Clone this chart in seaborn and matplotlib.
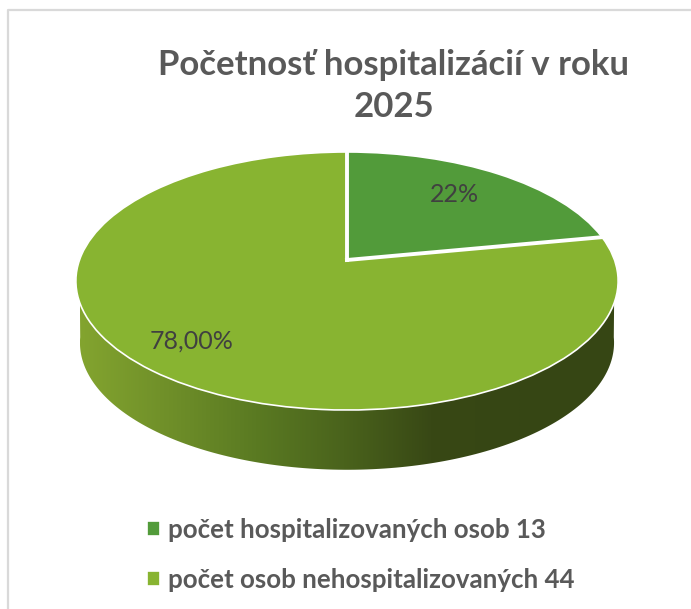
import numpy as np
import matplotlib
matplotlib.use('Agg')
import matplotlib.pyplot as plt
from matplotlib.path import Path
from matplotlib.patches import PathPatch
from matplotlib.transforms import Transform
import seaborn as sns

title = 'Početnosť hospitalizácií v roku\n2025'
categories = ['počet hospitalizovaných osob', 'počet osob nehospitalizovaných']
counts = [13, 44]
shares = [22, 78]
share_labels = ['22%', '78,00%']
colors = ['#529B3A', '#88B431']
wall_colors = ['#83A42F', '#6F8F29', '#5A7A22', '#4A631C', '#384815', '#364614']

sns.set_theme(style='white')
plt.rcParams['font.family'] = ['Lato', 'DejaVu Sans']

TEXT = '#595959'
HUB = (347, 260)


class TiltTransform(Transform):
    """Perspective tilt of the unit pie, output in image pixels."""
    input_dims = 2
    output_dims = 2

    def __init__(self, scale=1.0, shift=0.0):
        super().__init__()
        self.scale = scale
        self.shift = shift

    def transform_non_affine(self, xy):
        xy = np.asarray(xy)
        w = 1 + 0.1628 * xy[:, 1]
        px = HUB[0] + self.scale * 267.5 * xy[:, 0] / w
        py = HUB[1] + self.shift - self.scale * 125.6 * xy[:, 1] / w
        return np.column_stack([px, py])


fig, ax = plt.subplots(figsize=(6.91, 6.09), dpi=100)
fig.subplots_adjust(left=0, right=1, bottom=0, top=1)

# side wall, gradient clipped to the lower rim
t = np.linspace(np.pi + 0.12, 2 * np.pi - 0.12, 160)
rim = TiltTransform(scale=0.985, shift=62).transform(np.column_stack([np.cos(t), np.sin(t)]))
top = TiltTransform().transform(np.array([[1.0, 0.0], [0.0, 0.0], [-1.0, 0.0]]))
wall = Path(np.vstack([rim, top, rim[:1]]), closed=True)
cmap = sns.blend_palette(wall_colors, as_cmap=True)
img = ax.imshow(np.linspace(0, 1, 256)[None, :], cmap=cmap, extent=(80, 520, 480, 270),
                aspect='auto', zorder=1)
# colour holds beyond the gradient range on the right
tail = ax.imshow(np.ones((1, 2)), cmap=cmap, vmin=0, vmax=1, extent=(520, 625, 480, 270),
                 aspect='auto', zorder=1)
clip = PathPatch(wall, transform=ax.transData, fc='none', ec='none')
ax.add_patch(clip)
img.set_clip_path(clip)
tail.set_clip_path(clip)

wedges, _ = ax.pie(shares, colors=colors, startangle=90, counterclock=False,
                   wedgeprops={'edgecolor': 'white', 'linewidth': 1.2})
tilt = TiltTransform() + ax.transData
for w in wedges:
    w.set_transform(tilt)
    w.set_zorder(2)

# wider white spokes between the slices
for frac in np.cumsum(shares) / np.sum(shares):
    ang = 2 * np.pi * frac
    ax.plot([0, np.sin(ang)], [0, np.cos(ang)], color='white', lw=2.8, transform=tilt,
            solid_capstyle='projecting', zorder=2.5)

ax.text(454, 194, share_labels[0], fontsize=18, color='#404040', ha='center', va='center', zorder=3)
ax.text(192, 341, share_labels[1], fontsize=18, color='#404040', ha='center', va='center', zorder=3)

ax.text(394, 86, title, fontsize=25, fontweight='bold', color=TEXT, ha='center', va='center',
        linespacing=1.38, zorder=3)

# chart frame
ax.plot([8, 8, 691], [609, 10, 10], color='#D9D9D9', lw=1.6, zorder=0)

ax.set_aspect('auto')
ax.set_xlim(0, 691)
ax.set_ylim(609, 0)
ax.set_axis_off()

legend_labels = [f'{c} {n}' for c, n in zip(categories, counts)]
ax.legend(wedges, legend_labels, loc='upper left', bbox_to_anchor=(147 / 691, 1 - 518 / 609),
          frameon=False, labelcolor=TEXT, prop={'weight': 'bold', 'size': 18.6},
          handlelength=0.5, handleheight=0.5, handletextpad=0.32, labelspacing=1.0, borderpad=0, borderaxespad=0)

fig.savefig('out.png', dpi=100)
